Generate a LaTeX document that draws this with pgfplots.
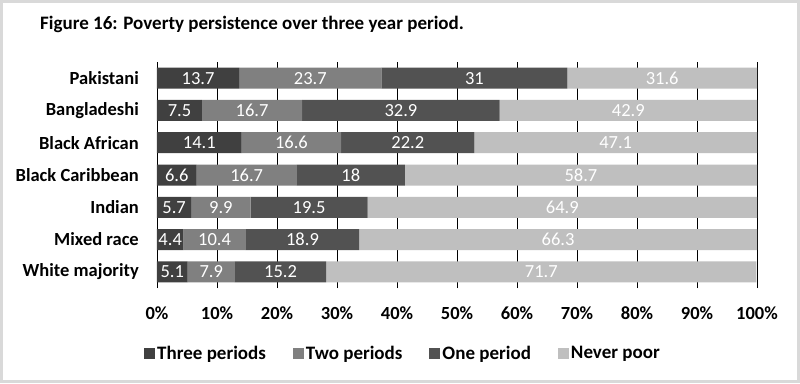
\documentclass[border=0pt]{standalone}
\usepackage{pgfplots}
\pgfplotsset{compat=1.18}
\usepackage{fontspec}
\setmainfont{Carlito}
\definecolor{cThree}{HTML}{404040}
\definecolor{cTwo}{HTML}{808080}
\definecolor{cOne}{HTML}{525252}
\definecolor{cNever}{HTML}{BFBFBF}
\definecolor{frameg}{HTML}{D9D9D9}
\newcommand{\chartfont}{\fontsize{18.5}{22}\selectfont}
\begin{document}
\begin{tikzpicture}[x=1pt,y=1pt]
\fill[white] (-157,-95) rectangle (643,288);
\draw[frameg, line width=3pt] (-155.5,-93.5) rectangle (641.5,286.5);
\node[anchor=base west, inner sep=0pt, font=\fontsize{19}{22}\selectfont\bfseries] at (-117,258) {Figure 16: Poverty persistence over three year period.};
\begin{axis}[
  at={(0,0)}, anchor=south west,
  xbar stacked, bar width=21pt,
  scale only axis, width=600pt, height=226pt,
  xmin=0, xmax=100, ymin=-0.5, ymax=6.5,
  ytick={0,...,6},
  yticklabels={White majority, Mixed race, Indian, Black Caribbean, Black African, Bangladeshi, Pakistani},
  xtick={0,10,...,100},
  xticklabels={0\%,10\%,20\%,30\%,40\%,50\%,60\%,70\%,80\%,90\%,100\%},
  xmajorgrids, major grid style={black, line width=0.75pt},
  axis line style={draw=none}, major tick length=0pt,
  tick label style={font=\chartfont\bfseries},
  yticklabel style={anchor=east, inner sep=0pt, xshift=-18pt},
  xticklabel style={anchor=base, inner sep=0pt, yshift=-31pt},
  point meta=explicit,
  nodes near coords={\pgfmathprintnumber[assume math mode=true]{\pgfplotspointmeta}},
  every node near coord/.append style={white, anchor=center, inner sep=0pt, font=\chartfont},
  legend style={at={(0.41,-0.29)}, anchor=center, draw=none, fill=none, legend columns=-1, font=\fontsize{19}{22}\selectfont\bfseries,
    nodes={inner sep=2pt},
    /tikz/every even column/.append style={column sep=25pt}},
  legend image code/.code={\fill[#1] (0pt,-5.5pt) rectangle (11pt,5.5pt);},
]
\addplot[fill=cThree, draw=none] table[x=v, y=y, meta=v] {
y v
0 5.1
1 4.4
2 5.7
3 6.6
4 14.1
5 7.5
6 13.7
};
\addplot[fill=cTwo, draw=none] table[x=v, y=y, meta=v] {
y v
0 7.9
1 10.4
2 9.9
3 16.7
4 16.6
5 16.7
6 23.7
};
\addplot[fill=cOne, draw=none] table[x=v, y=y, meta=v] {
y v
0 15.2
1 18.9
2 19.5
3 18
4 22.2
5 32.9
6 31
};
\addplot[fill=cNever, draw=none] table[x=v, y=y, meta=v] {
y v
0 71.7
1 66.3
2 64.9
3 58.7
4 47.1
5 42.9
6 31.6
};
\legend{Three periods, Two periods, One period, Never poor}
\end{axis}
\end{tikzpicture}
\end{document}
